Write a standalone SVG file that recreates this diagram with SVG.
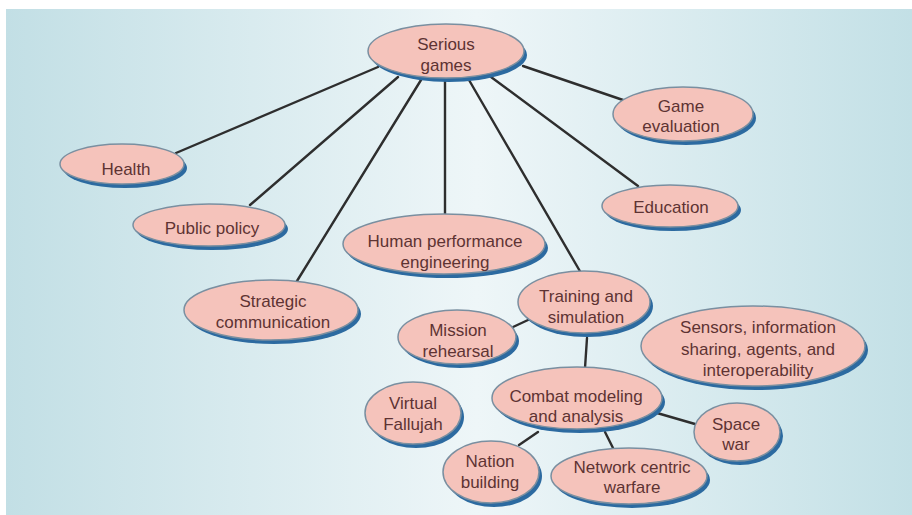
<svg xmlns="http://www.w3.org/2000/svg" width="912" height="515" viewBox="0 0 912 515">
<defs>
<linearGradient id="bg" x1="0" y1="0" x2="1" y2="0">
<stop offset="0" stop-color="#c2dfe5"/>
<stop offset="0.52" stop-color="#eef6f8"/>
<stop offset="1" stop-color="#c3e0e6"/>
</linearGradient>
<style>
.sh{fill:#2c6aa0;}
.nd{fill:#f5c3bb;stroke:#7a8fa0;stroke-width:1.5;}
.tx{font-family:"Liberation Sans",Arial,sans-serif;font-size:17px;fill:#5e3333;text-anchor:middle;}
.cn line{stroke:#2e2e2e;stroke-width:2.4;stroke-linecap:round;}
</style>
</defs>
<rect x="0" y="0" width="912" height="515" fill="#ffffff"/>
<rect x="6" y="9" width="906" height="506" fill="url(#bg)"/>
<g id="connectors" class="cn">
<line x1="378" y1="67" x2="176" y2="153"/>
<line x1="398" y1="77" x2="250" y2="205"/>
<line x1="421" y1="80" x2="297" y2="281"/>
<line x1="445" y1="80" x2="445" y2="215"/>
<line x1="469" y1="80" x2="581" y2="273"/>
<line x1="491" y1="77" x2="638" y2="186"/>
<line x1="523" y1="66" x2="623" y2="100"/>
<line x1="513" y1="327" x2="528" y2="320"/>
<line x1="587" y1="338" x2="585" y2="368"/>
<line x1="657" y1="413" x2="695" y2="424"/>
<line x1="538" y1="432" x2="519" y2="445"/>
<line x1="605" y1="432" x2="613" y2="448"/>
</g>
<g id="serious-games">
<ellipse class="sh" cx="449" cy="55" rx="78" ry="27"/>
<ellipse class="nd" cx="446" cy="51" rx="78" ry="27"/>
<text class="tx" x="446" y="50">Serious</text>
<text class="tx" x="446" y="71">games</text>
</g>
<g id="health">
<ellipse class="sh" cx="125" cy="168" rx="62" ry="20"/>
<ellipse class="nd" cx="122" cy="164" rx="62" ry="20"/>
<text class="tx" x="126" y="175">Health</text>
</g>
<g id="public-policy">
<ellipse class="sh" cx="212" cy="229" rx="76" ry="21"/>
<ellipse class="nd" cx="209" cy="225" rx="76" ry="21"/>
<text class="tx" x="212" y="234">Public policy</text>
</g>
<g id="human-performance">
<ellipse class="sh" cx="447" cy="248" rx="101" ry="30"/>
<ellipse class="nd" cx="444" cy="244" rx="101" ry="30"/>
<text class="tx" x="445" y="247">Human performance</text>
<text class="tx" x="445" y="268">engineering</text>
</g>
<g id="game-evaluation">
<ellipse class="sh" cx="686" cy="118" rx="70" ry="27"/>
<ellipse class="nd" cx="683" cy="114" rx="70" ry="27"/>
<text class="tx" x="681" y="112">Game</text>
<text class="tx" x="681" y="132">evaluation</text>
</g>
<g id="education">
<ellipse class="sh" cx="673" cy="210" rx="68" ry="21"/>
<ellipse class="nd" cx="670" cy="206" rx="68" ry="21"/>
<text class="tx" x="671" y="213">Education</text>
</g>
<g id="strategic-communication">
<ellipse class="sh" cx="274" cy="314" rx="87" ry="30"/>
<ellipse class="nd" cx="271" cy="310" rx="87" ry="30"/>
<text class="tx" x="273" y="307">Strategic</text>
<text class="tx" x="273" y="328">communication</text>
</g>
<g id="training-simulation">
<ellipse class="sh" cx="587" cy="306" rx="66" ry="31"/>
<ellipse class="nd" cx="584" cy="302" rx="66" ry="31"/>
<text class="tx" x="586" y="302">Training and</text>
<text class="tx" x="586" y="323">simulation</text>
</g>
<g id="mission-rehearsal">
<ellipse class="sh" cx="460" cy="341" rx="59" ry="27"/>
<ellipse class="nd" cx="457" cy="337" rx="59" ry="27"/>
<text class="tx" x="458" y="336">Mission</text>
<text class="tx" x="458" y="357">rehearsal</text>
</g>
<g id="sensors">
<ellipse class="sh" cx="756" cy="350" rx="112" ry="40"/>
<ellipse class="nd" cx="753" cy="346" rx="112" ry="40"/>
<text class="tx" x="758" y="333">Sensors, information</text>
<text class="tx" x="758" y="355">sharing, agents, and</text>
<text class="tx" x="758" y="376">interoperability</text>
</g>
<g id="virtual-fallujah">
<ellipse class="sh" cx="416" cy="417" rx="48" ry="31"/>
<ellipse class="nd" cx="413" cy="413" rx="48" ry="31"/>
<text class="tx" x="413" y="409">Virtual</text>
<text class="tx" x="413" y="430">Fallujah</text>
</g>
<g id="combat-modeling">
<ellipse class="sh" cx="580" cy="402" rx="85" ry="31"/>
<ellipse class="nd" cx="577" cy="398" rx="85" ry="31"/>
<text class="tx" x="576" y="402">Combat modeling</text>
<text class="tx" x="576" y="422">and analysis</text>
</g>
<g id="space-war">
<ellipse class="sh" cx="740" cy="436" rx="43" ry="29"/>
<ellipse class="nd" cx="737" cy="432" rx="43" ry="29"/>
<text class="tx" x="736" y="430">Space</text>
<text class="tx" x="736" y="450">war</text>
</g>
<g id="nation-building">
<ellipse class="sh" cx="494" cy="476" rx="48" ry="31"/>
<ellipse class="nd" cx="491" cy="472" rx="48" ry="31"/>
<text class="tx" x="490" y="467">Nation</text>
<text class="tx" x="490" y="488">building</text>
</g>
<g id="network-centric">
<ellipse class="sh" cx="632" cy="480" rx="78" ry="28"/>
<ellipse class="nd" cx="629" cy="476" rx="78" ry="28"/>
<text class="tx" x="632" y="473">Network centric</text>
<text class="tx" x="632" y="493">warfare</text>
</g>
</svg>
